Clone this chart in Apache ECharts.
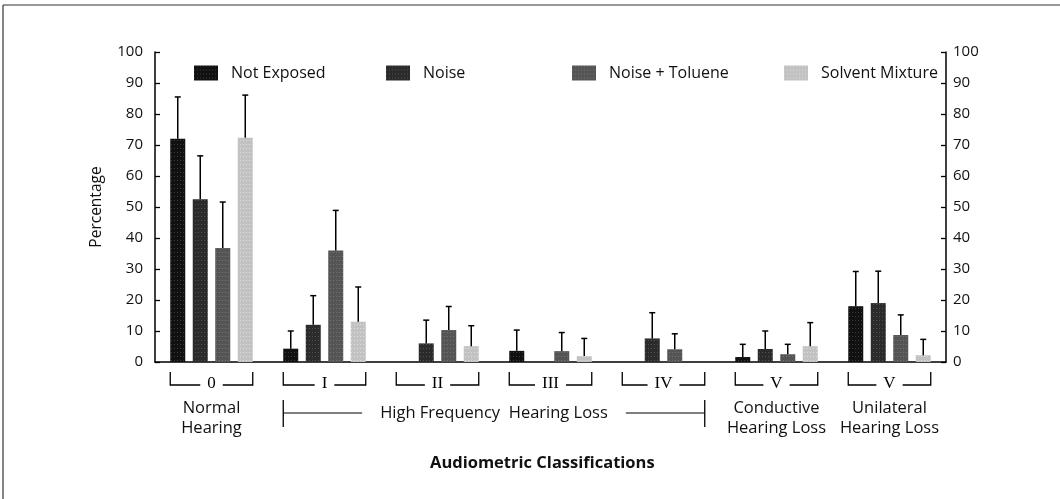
<!DOCTYPE html>
<html>
<head>
<meta charset="utf-8">
<script src="https://cdn.jsdelivr.net/npm/echarts@6/dist/echarts.min.js"></script>
<style>
  html, body { margin: 0; padding: 0; background: #fff; }
  #chart { width: 1060px; height: 499px; }
</style>
</head>
<body>
<div id="chart"></div>
<script>
// classification groups along the x axis
const categories = ['0', 'I', 'II', 'III', 'IV', 'V', 'V']
const subLabels = ['Normal\nHearing', '', '', '', '', 'Conductive\nHearing Loss', 'Unilateral\nHearing Loss']
const spanLabel = 'High Frequency  Hearing Loss' // spans groups I..IV
const spanFrom = 1
const spanTo = 4

const seriesNames = ['Not Exposed', 'Noise', 'Noise + Toluene', 'Solvent Mixture']
const notExposed = [72, 4.3, 0, 3.6, 0, 1.6, 18]
const noise = [52.5, 12, 6, 0, 7.6, 4.2, 19]
const noiseToluene = [36.8, 36, 10.3, 3.5, 4.1, 2.5, 8.7]
const solventMix = [72.3, 13, 5.1, 1.9, 0, 5.1, 2.2]

// standard deviations (upper error bar length)
const notExposedSd = [13.5, 5.7, 0, 6.7, 0, 4.1, 11.2]
const noiseSd = [14, 9.4, 7.5, 0, 8.3, 5.8, 10.3]
const noiseTolueneSd = [14.8, 12.9, 7.6, 6, 5, 3.2, 6.5]
const solventMixSd = [13.8, 11.2, 6.6, 5.7, 0, 7.6, 5.1]

const yTicks = [0, 10, 20, 30, 40, 50, 60, 70, 80, 90, 100]

const values = [notExposed, noise, noiseToluene, solventMix]
const sds = [notExposedSd, noiseSd, noiseTolueneSd, solventMixSd]
const colors = ['#111111', '#2b2b2b', '#555555', '#c2c2c2']
const legendLeft = [194, 386, 572, 784]

const FONT = '"Open Sans", "Noto Sans", sans-serif'
const BAR_W = 15
const BAR_GAP = 0.5
const STEP = BAR_W * (1 + BAR_GAP)
const HALF = (4 * BAR_W + 3 * BAR_W * BAR_GAP) / 2

const chart = echarts.init(document.getElementById('chart'))

const barSeries = seriesNames.map((name, k) => ({
  name: name,
  type: 'bar',
  barWidth: BAR_W,
  barGap: BAR_GAP * 100 + '%',
  itemStyle: {
    color: colors[k],
    decal: {
      symbol: 'rect',
      symbolSize: 1,
      dashArrayX: [1, 2],
      dashArrayY: [1, 3],
      color: k === 3 ? 'rgba(255,255,255,0.45)' : 'rgba(255,255,255,0.18)'
    }
  },
  data: values[k]
}))

// error bars: [category, seriesIndex, value, sd]
const errData = []
values.forEach((arr, k) => {
  arr.forEach((v, i) => {
    if (sds[k][i] > 0) errData.push([i, k, v, sds[k][i]])
  })
})

const errSeries = {
  type: 'custom',
  silent: true,
  z: 3,
  data: errData,
  encode: { x: 0, y: 2 },
  renderItem(params, api) {
    const cat = api.value(0)
    const k = api.value(1)
    const v = api.value(2)
    const sd = api.value(3)
    const dx = (k - 1.5) * STEP
    const p0 = api.coord([cat, v])
    const p1 = api.coord([cat, v + sd])
    const x = p0[0] + dx
    return {
      type: 'group',
      children: [
        { type: 'line', shape: { x1: x, y1: p0[1], x2: x, y2: p1[1] }, style: { stroke: '#000', lineWidth: 1.5 } },
        { type: 'line', shape: { x1: x - 3, y1: p1[1], x2: x + 3, y2: p1[1] }, style: { stroke: '#000', lineWidth: 1.5 } }
      ]
    }
  }
}

// brackets, roman numerals and descriptive labels under the axis
const annoSeries = {
  type: 'custom',
  silent: true,
  clip: false,
  data: categories.map((c, i) => [i, 0]),
  encode: { x: 0, y: 1 },
  renderItem(params, api) {
    const i = api.value(0)
    const c = api.coord([i, 0])
    const x = c[0]
    const y = c[1]
    const children = [
      {
        type: 'polyline',
        shape: { points: [[x - HALF, y + 10], [x - HALF, y + 23], [x + HALF, y + 23], [x + HALF, y + 10]] },
        style: { stroke: '#000', lineWidth: 1.3, fill: null }
      },
      {
        type: 'text',
        z2: 10,
        style: {
          x: x, y: y + 22, text: categories[i],
          font: '17px "Liberation Serif", serif',
          align: 'center', verticalAlign: 'middle',
          backgroundColor: '#fff', padding: [0, 7], fill: '#000'
        }
      }
    ]
    if (subLabels[i]) {
      children.push({
        type: 'text',
        style: {
          x: x, y: y + 56, text: subLabels[i],
          font: '16.5px ' + FONT, lineHeight: 20,
          align: 'center', verticalAlign: 'middle', fill: '#111'
        }
      })
    }
    if (i === spanFrom) {
      const xa = x - HALF
      const xb = api.coord([spanTo, 0])[0] + HALF
      const ly = y + 51
      children.push(
        { type: 'line', shape: { x1: xa, y1: ly, x2: xb, y2: ly }, style: { stroke: '#000', lineWidth: 1.2 } },
        { type: 'line', shape: { x1: xa, y1: ly - 13, x2: xa, y2: ly + 14 }, style: { stroke: '#000', lineWidth: 1.3 } },
        { type: 'line', shape: { x1: xb, y1: ly - 13, x2: xb, y2: ly + 14 }, style: { stroke: '#000', lineWidth: 1.3 } },
        {
          type: 'text',
          z2: 10,
          style: {
            x: (xa + xb) / 2, y: ly, text: spanLabel,
            font: '16.5px ' + FONT,
            align: 'center', verticalAlign: 'middle',
            backgroundColor: '#fff', padding: [2, 18], fill: '#111'
          }
        }
      )
    }
    return { type: 'group', children: children }
  }
}

const yAxisBase = {
  type: 'value',
  min: yTicks[0],
  max: yTicks[yTicks.length - 1],
  interval: yTicks[1] - yTicks[0],
  splitLine: { show: false },
  axisLine: { show: true, lineStyle: { color: '#000', width: 1.5 } },
  axisTick: { show: true, inside: true, length: 5, lineStyle: { color: '#000', width: 1.3 } },
  axisLabel: { color: '#111', fontSize: 15, fontFamily: FONT }
}

chart.setOption({
  animation: false,
  backgroundColor: '#fff',
  title: {
    text: 'Audiometric Classifications',
    left: 430,
    top: 455,
    padding: 0,
    textStyle: { fontSize: 16.5, fontWeight: 'bold', fontFamily: FONT, color: '#111' }
  },
  legend: seriesNames.map((name, k) => ({
    data: [name],
    left: legendLeft[k],
    top: 65,
    padding: 0,
    icon: 'rect',
    itemWidth: 24,
    itemHeight: 15,
    selectedMode: false,
    textStyle: { fontSize: 16, fontFamily: FONT, color: '#111', padding: [0, 0, 0, 8] }
  })),
  grid: { left: 155, right: 114, top: 52, bottom: 137 },
  xAxis: {
    type: 'category',
    data: categories,
    axisLine: { lineStyle: { color: '#000', width: 1.5 } },
    axisTick: { show: false },
    axisLabel: { show: false }
  },
  yAxis: [
    Object.assign({}, yAxisBase, {
      position: 'left',
      name: 'Percentage',
      nameLocation: 'middle',
      nameGap: 50,
      nameRotate: 90,
      nameTextStyle: { fontSize: 15.5, fontFamily: FONT, color: '#111' },
      axisLabel: Object.assign({}, yAxisBase.axisLabel, { margin: 12 })
    }),
    Object.assign({}, yAxisBase, {
      position: 'right',
      axisLabel: Object.assign({}, yAxisBase.axisLabel, { margin: 7 })
    })
  ],
  graphic: [
    { type: 'line', shape: { x1: 3, y1: 5, x2: 1060, y2: 5 }, style: { stroke: '#333', lineWidth: 1.2 } },
    { type: 'line', shape: { x1: 3, y1: 5, x2: 3, y2: 499 }, style: { stroke: '#333', lineWidth: 1.2 } }
  ],
  series: barSeries.concat([errSeries, annoSeries])
})
</script>
</body>
</html>
